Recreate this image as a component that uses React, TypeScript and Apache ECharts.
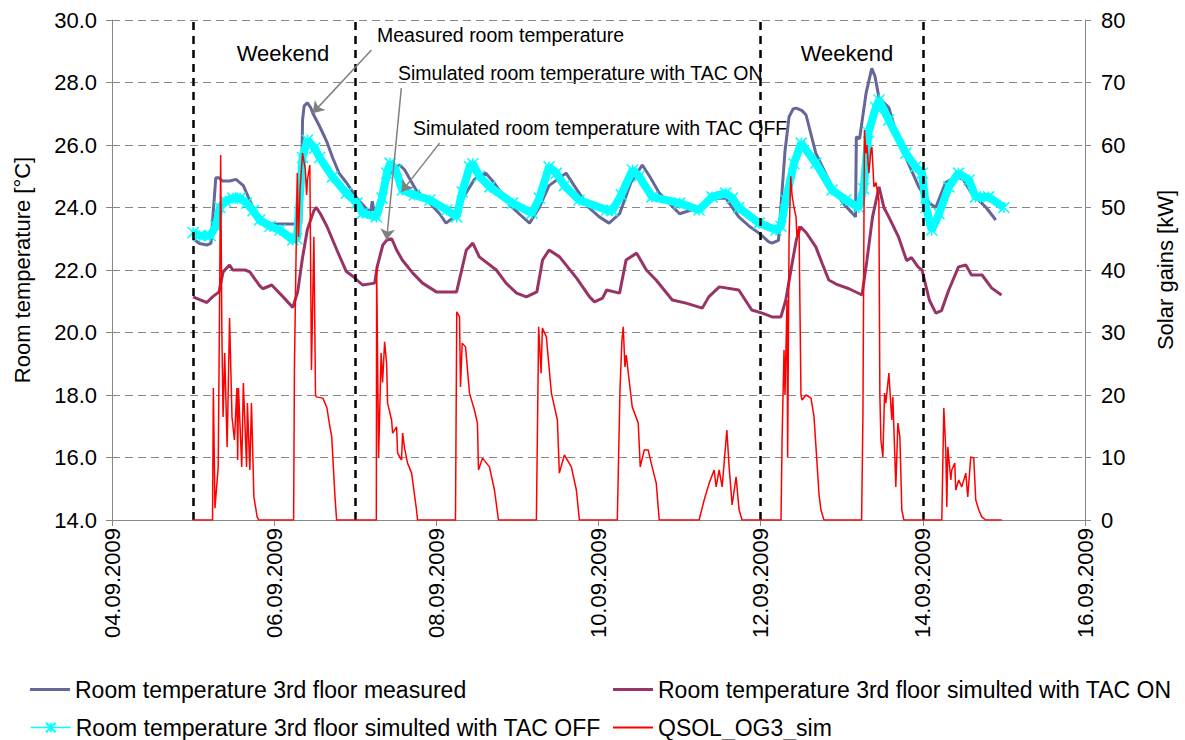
import React, { useEffect, useRef } from "react";
import * as echarts from "echarts";

// time axis: day of September 2009 (fractional days)
const xMin = 4;
const xMax = 16;
const xStep = 2;
const weekendBounds = [5, 7, 12, 14];

const seriesNames = [
  "Room temperature 3rd floor measured",
  "Room temperature 3rd floor simulted with TAC ON",
  "Room temperature 3rd floor simulted with TAC OFF",
  "QSOL_OG3_sim",
];

// [day, °C]
const measured = [
  [5.0, 23.0], [5.08, 22.85], [5.17, 22.8], [5.22, 22.85], [5.25, 23.9], [5.28, 24.95], [5.32, 24.95],
  [5.36, 24.85], [5.45, 24.85], [5.53, 24.9], [5.62, 24.7], [5.67, 24.4], [5.72, 24.1], [5.8, 23.7],
  [5.88, 23.5], [6.0, 23.47], [6.15, 23.47], [6.3, 23.47], [6.33, 23.5], [6.35, 26.8], [6.37, 27.25],
  [6.41, 27.35], [6.45, 27.2], [6.48, 27.0], [6.56, 26.6], [6.65, 26.1], [6.72, 25.6], [6.8, 25.1],
  [6.89, 24.8], [7.02, 24.3], [7.14, 23.95], [7.19, 23.85], [7.21, 24.2], [7.23, 23.9], [7.28, 24.0],
  [7.36, 24.6], [7.45, 25.2], [7.55, 25.36], [7.61, 25.2], [7.75, 24.56], [7.92, 24.14], [8.04, 23.8],
  [8.12, 23.5], [8.22, 23.7], [8.35, 24.4], [8.47, 24.9], [8.61, 25.1], [8.71, 24.8], [8.9, 24.1],
  [9.02, 23.8], [9.15, 23.5], [9.27, 24.0], [9.39, 24.7], [9.6, 25.1], [9.7, 24.7], [9.88, 24.0],
  [10.01, 23.7], [10.13, 23.5], [10.26, 23.8], [10.4, 24.8], [10.54, 25.36], [10.63, 25.0], [10.75, 24.46],
  [11.0, 23.8], [11.24, 24.0], [11.43, 24.3], [11.57, 24.3], [11.73, 23.7], [11.86, 23.4], [11.98, 23.18],
  [12.1, 22.9], [12.14, 22.86], [12.22, 22.95], [12.26, 24.4], [12.3, 25.8], [12.35, 26.9], [12.4, 27.15],
  [12.44, 27.18], [12.51, 27.1], [12.56, 26.96], [12.68, 25.74], [12.88, 24.66], [13.03, 24.1], [13.13, 23.82],
  [13.17, 23.7], [13.18, 26.26], [13.22, 26.2], [13.3, 27.66], [13.37, 28.45], [13.41, 28.2], [13.46, 27.5],
  [13.58, 27.2], [13.67, 26.4], [13.79, 25.6], [13.95, 24.66], [14.08, 24.14], [14.16, 24.0], [14.28, 24.8],
  [14.41, 24.98], [14.5, 24.9], [14.6, 24.46], [14.78, 24.0], [14.9, 23.6],
];

// [day, °C]
const tacOn = [
  [5.0, 21.14], [5.08, 21.05], [5.17, 20.96], [5.24, 21.14], [5.32, 21.3], [5.37, 21.94], [5.45, 22.16],
  [5.49, 22.0], [5.64, 22.0], [5.7, 21.94], [5.82, 21.5], [5.86, 21.4], [5.97, 21.52], [6.11, 21.14],
  [6.23, 20.8], [6.29, 21.3], [6.35, 22.4], [6.41, 23.3], [6.49, 23.9], [6.52, 24.0], [6.57, 23.8],
  [6.65, 23.4], [6.78, 22.6], [6.89, 21.95], [6.97, 21.8], [7.09, 21.52], [7.24, 21.58], [7.27, 22.1],
  [7.34, 22.8], [7.39, 22.96], [7.45, 23.0], [7.51, 22.64], [7.58, 22.32], [7.71, 21.9], [7.83, 21.58],
  [8.0, 21.3], [8.25, 21.3], [8.37, 22.64], [8.45, 22.86], [8.53, 22.42], [8.74, 22.0], [8.86, 21.58],
  [8.99, 21.26], [9.11, 21.14], [9.24, 21.3], [9.31, 22.32], [9.39, 22.64], [9.52, 22.42], [9.73, 21.74],
  [9.89, 21.14], [9.95, 20.98], [10.05, 21.1], [10.1, 21.36], [10.26, 21.26], [10.34, 22.32], [10.47, 22.54],
  [10.59, 22.0], [10.71, 21.68], [10.91, 21.04], [11.08, 20.94], [11.28, 20.78], [11.36, 21.14], [11.49, 21.46],
  [11.73, 21.36], [11.89, 20.72], [12.02, 20.62], [12.14, 20.5], [12.25, 20.5], [12.31, 21.04], [12.38, 22.1],
  [12.44, 22.96], [12.49, 23.38], [12.56, 23.2], [12.68, 22.74], [12.76, 22.2], [12.84, 21.68], [12.93, 21.55],
  [13.09, 21.4], [13.25, 21.2], [13.31, 22.3], [13.38, 23.7], [13.46, 24.66], [13.52, 24.0], [13.58, 23.7],
  [13.7, 23.06], [13.8, 22.3], [13.86, 22.4], [13.94, 22.1], [13.99, 22.0], [14.08, 21.04], [14.16, 20.62],
  [14.23, 20.7], [14.32, 21.36], [14.44, 22.1], [14.53, 22.16], [14.6, 21.84], [14.73, 21.84], [14.85, 21.42],
  [14.97, 21.2],
];

// [day, °C]
const tacOff = [
  [5.0, 23.2], [5.08, 23.1], [5.21, 23.1], [5.28, 23.4], [5.33, 24.0], [5.4, 24.2], [5.49, 24.3],
  [5.58, 24.3], [5.66, 24.14], [5.74, 23.9], [5.82, 23.6], [5.95, 23.4], [6.07, 23.28], [6.23, 22.96],
  [6.28, 23.0], [6.35, 25.6], [6.41, 26.16], [6.5, 25.9], [6.56, 25.6], [6.72, 24.98], [6.89, 24.46],
  [7.02, 24.14], [7.09, 23.82], [7.26, 23.7], [7.33, 24.3], [7.39, 25.1], [7.43, 25.42], [7.5, 25.2],
  [7.58, 24.56], [7.73, 24.4], [7.92, 24.24], [8.13, 23.92], [8.25, 23.7], [8.32, 24.5], [8.41, 25.3],
  [8.45, 25.4], [8.53, 25.0], [8.66, 24.66], [8.94, 24.14], [9.18, 23.82], [9.27, 24.3], [9.39, 25.3],
  [9.48, 25.1], [9.58, 24.7], [9.76, 24.24], [10.1, 23.92], [10.17, 23.9], [10.28, 24.4], [10.42, 25.2],
  [10.5, 25.0], [10.66, 24.34], [11.0, 24.14], [11.24, 23.92], [11.4, 24.34], [11.57, 24.46], [11.65, 24.3],
  [11.73, 24.0], [11.98, 23.5], [12.19, 23.28], [12.25, 23.4], [12.31, 24.24], [12.41, 25.4], [12.5, 26.06],
  [12.68, 25.42], [12.88, 24.56], [13.05, 24.24], [13.21, 24.0], [13.27, 24.6], [13.33, 26.4], [13.42, 27.2],
  [13.46, 27.44], [13.58, 26.8], [13.79, 25.74], [13.91, 25.3], [13.99, 25.1], [14.04, 24.0], [14.11, 23.28],
  [14.2, 23.8], [14.32, 24.66], [14.44, 25.1], [14.57, 24.88], [14.65, 24.34], [14.81, 24.34], [15.0, 24.0],
];

// [day, kW]
const qsol = [
  [5.0, 0], [5.24, 0], [5.25, 21.1], [5.27, 1.9], [5.31, 8.5], [5.33, 40], [5.34, 58.4], [5.355, 30],
  [5.37, 16.5], [5.39, 26.7], [5.42, 11.7], [5.45, 32.3], [5.48, 16.5], [5.51, 12.8], [5.54, 21.1],
  [5.55, 9.6], [5.56, 21.1], [5.6, 8.5], [5.62, 21.9], [5.66, 8.5], [5.67, 18.7], [5.7, 8.0], [5.72, 18.7],
  [5.75, 3.7], [5.79, 0.5], [5.81, 0], [6.24, 0], [6.25, 24.5], [6.285, 55.5], [6.3, 45.3], [6.32, 53],
  [6.35, 58.7], [6.385, 56], [6.4, 52], [6.41, 54.4], [6.44, 56.8], [6.46, 24], [6.49, 45.3], [6.51, 20],
  [6.52, 19.7], [6.6, 19.5], [6.65, 18], [6.68, 15.5], [6.71, 13.3], [6.75, 3.7], [6.77, 0],
  [7.26, 0], [7.264, 40.5], [7.288, 10], [7.319, 26.7], [7.337, 22], [7.362, 28.5], [7.387, 25], [7.399, 18.7],
  [7.448, 16], [7.461, 13.9], [7.51, 14.9], [7.522, 10.7], [7.571, 9.6], [7.584, 13.9], [7.608, 11.5],
  [7.645, 9.1], [7.695, 7.5], [7.756, 1.6], [7.768, 0],
  [8.236, 0], [8.252, 33.3], [8.286, 32.5], [8.298, 21.3], [8.319, 28.3], [8.36, 27.7], [8.409, 20.3],
  [8.47, 17.6], [8.507, 15.5], [8.52, 8.0], [8.569, 9.9], [8.655, 8.5], [8.717, 4.8], [8.766, 0],
  [9.234, 0], [9.262, 30.9], [9.292, 23.5], [9.308, 30.7], [9.357, 29.3], [9.419, 20.3], [9.493, 16],
  [9.517, 7.5], [9.579, 10.4], [9.665, 8.5], [9.727, 4.8], [9.764, 0],
  [10.232, 0], [10.265, 20.8], [10.289, 28.8], [10.305, 30.9], [10.326, 24.5], [10.342, 26.4], [10.416, 18.1],
  [10.49, 15.5], [10.515, 8.5], [10.564, 11.2], [10.613, 11.2], [10.65, 9.1], [10.712, 5.9], [10.749, 0],
  [11.241, 0], [11.303, 3.2], [11.365, 5.9], [11.426, 8.0], [11.451, 5.3], [11.488, 8.0], [11.525, 5.3],
  [11.583, 14.4], [11.611, 8.5], [11.648, 2.4], [11.697, 6.9], [11.734, 1.6], [11.771, 0],
  [12.251, 0], [12.264, 12.8], [12.288, 27.2], [12.3, 20], [12.325, 35.2], [12.333, 10], [12.35, 45],
  [12.371, 55], [12.387, 52], [12.411, 50], [12.436, 48.5], [12.448, 45.3], [12.473, 47], [12.497, 20],
  [12.51, 19.2], [12.559, 20], [12.621, 19.5], [12.658, 16.5], [12.695, 9.1], [12.72, 4.0], [12.744, 1.6],
  [12.781, 0],
  [13.245, 0], [13.261, 16.5], [13.28, 62.4], [13.298, 58.7], [13.31, 60], [13.335, 55.5], [13.36, 59.2],
  [13.372, 59.7], [13.397, 53.3], [13.421, 54], [13.458, 51.2], [13.47, 20], [13.483, 12.8], [13.507, 10.1],
  [13.528, 20.3], [13.544, 18.7], [13.581, 23.5], [13.617, 16], [13.63, 19.7], [13.655, 10.1], [13.667, 5.3],
  [13.692, 15.5], [13.717, 13.3], [13.741, 1.6], [13.766, 0],
  [14.234, 0], [14.259, 17.9], [14.283, 11.2], [14.296, 2.1], [14.308, 11.7], [14.345, 6.4], [14.357, 8.0],
  [14.394, 9.1], [14.406, 4.8], [14.443, 6.4], [14.48, 5.3], [14.53, 7.5], [14.554, 3.7], [14.591, 10.1],
  [14.628, 9.9], [14.653, 3.2], [14.69, 1.6], [14.727, 0.5], [14.776, 0], [14.973, 0],
];

// annotation arrows: [from(day, °C), to(day, °C)]
const arrows = [
  [[7.2, 29.04], [6.475, 27.02]],
  [[7.568, 27.82], [7.387, 22.96]],
  [[8.04, 26.06], [7.57, 24.5]],
];

const annotationTexts = [
  "Measured room temperature",
  "Simulated room temperature with TAC ON",
  "Simulated room temperature with TAC OFF",
];
const weekendText = "Weekend";

const FONT = "'Liberation Sans', Arial, Helvetica, sans-serif";
const AXIS_GRAY = "#888888";

export default function App() {
  const ref = useRef<HTMLDivElement>(null);

  useEffect(() => {
    document.body.style.margin = "0";
    if (!ref.current) return;
    const chart = echarts.init(ref.current, null, { renderer: "svg" });

    const legendBase = {
      orient: "horizontal",
      padding: 0,
      itemWidth: 40,
      selectedMode: false,
      textStyle: { fontFamily: FONT, fontSize: 23, color: "#000" },
    };

    const starPath = "path://M0,0L10,10M10,0L0,10M5,0L5,10";

    const option: any = {
      animation: false,
      backgroundColor: "#ffffff",
      grid: { left: 112, right: 100, top: 20, bottom: 220, containLabel: false },
      legend: [
        { ...legendBase, data: [{ name: seriesNames[0], icon: "rect" }], left: 30, top: 678, itemHeight: 3 },
        { ...legendBase, data: [{ name: seriesNames[1], icon: "rect" }], left: 613, top: 678, itemHeight: 3 },
        {
          ...legendBase,
          data: [seriesNames[2]],
          left: 30,
          top: 716,
          itemHeight: 12,
          lineStyle: { width: 1.5 },
        },
        { ...legendBase, data: [{ name: seriesNames[3], icon: "rect" }], left: 613, top: 716, itemHeight: 2 },
      ],
      xAxis: {
        type: "value",
        min: xMin,
        max: xMax,
        interval: xStep,
        axisLine: { show: true, onZero: false, lineStyle: { color: AXIS_GRAY, width: 1 } },
        axisTick: { show: true, length: 6, lineStyle: { color: AXIS_GRAY } },
        axisLabel: {
          rotate: 90,
          margin: 8,
          fontFamily: FONT,
          fontSize: 22,
          color: "#000",
          formatter: (v: number) => (v < 10 ? "0" : "") + v + ".09.2009",
        },
        splitLine: { show: false },
      },
      yAxis: [
        {
          type: "value",
          min: 14,
          max: 30,
          interval: 2,
          position: "left",
          name: "Room temperature [°C]",
          nameLocation: "middle",
          nameRotate: 90,
          nameGap: 79,
          nameTextStyle: { fontFamily: FONT, fontSize: 22, color: "#000" },
          axisLine: { show: true, lineStyle: { color: AXIS_GRAY } },
          axisTick: { show: true, length: 6, lineStyle: { color: AXIS_GRAY } },
          axisLabel: {
            formatter: (v: number) => v.toFixed(1),
            fontFamily: FONT,
            fontSize: 22,
            color: "#000",
            margin: 15,
          },
          splitLine: { show: true, lineStyle: { color: AXIS_GRAY, type: [8, 5], width: 1 } },
        },
        {
          type: "value",
          min: 0,
          max: 80,
          interval: 10,
          position: "right",
          name: "Solar gains [kW]",
          nameLocation: "middle",
          nameRotate: 90,
          nameGap: 69,
          nameTextStyle: { fontFamily: FONT, fontSize: 22, color: "#000" },
          axisLine: { show: true, lineStyle: { color: AXIS_GRAY } },
          axisTick: { show: true, length: 6, lineStyle: { color: AXIS_GRAY } },
          axisLabel: { fontFamily: FONT, fontSize: 22, color: "#000", margin: 16 },
          splitLine: { show: false },
        },
      ],
      series: [
        {
          name: seriesNames[0],
          type: "line",
          yAxisIndex: 0,
          data: measured,
          symbol: "none",
          color: "#666699",
          lineStyle: { color: "#666699", width: 3 },
          z: 2,
        },
        {
          name: seriesNames[1],
          type: "line",
          yAxisIndex: 0,
          data: tacOn,
          symbol: "none",
          color: "#993366",
          lineStyle: { color: "#993366", width: 3 },
          z: 3,
        },
        {
          name: seriesNames[2],
          type: "line",
          yAxisIndex: 0,
          data: tacOff,
          symbol: starPath,
          symbolSize: 11,
          showAllSymbol: true,
          color: "#00FFFF",
          itemStyle: { color: "#00FFFF", borderColor: "#00FFFF", borderWidth: 1.5 },
          lineStyle: { color: "#00FFFF", width: 8 },
          z: 4,
        },
        {
          name: seriesNames[3],
          type: "line",
          yAxisIndex: 1,
          data: qsol,
          symbol: "none",
          color: "#FF0000",
          lineStyle: { color: "#FF0000", width: 1.5 },
          z: 5,
        },
        {
          name: "weekend-lines",
          type: "line",
          yAxisIndex: 0,
          data: [],
          silent: true,
          markLine: {
            silent: true,
            symbol: ["none", "none"],
            label: { show: false },
            lineStyle: { color: "#000", width: 2.5, type: [8, 6] },
            data: weekendBounds.map((d) => ({ xAxis: d })),
          },
        },
        {
          name: "arrows",
          type: "line",
          yAxisIndex: 0,
          data: [],
          silent: true,
          markLine: {
            silent: true,
            symbol: ["none", "arrow"],
            symbolSize: 11,
            label: { show: false },
            lineStyle: { color: "#808080", width: 1.5, type: "solid" },
            data: arrows.map(([a, b]) => [{ coord: a }, { coord: b }]),
          },
        },
      ],
      graphic: [
        {
          type: "text",
          x: 283,
          y: 53,
          style: { text: weekendText, fontFamily: FONT, fontSize: 22, fill: "#000", align: "center", verticalAlign: "middle" },
        },
        {
          type: "text",
          x: 847,
          y: 53,
          style: { text: weekendText, fontFamily: FONT, fontSize: 22, fill: "#000", align: "center", verticalAlign: "middle" },
        },
        {
          type: "text",
          x: 377,
          y: 35,
          style: { text: annotationTexts[0], fontFamily: FONT, fontSize: 19.5, fill: "#000", align: "left", verticalAlign: "middle" },
        },
        {
          type: "text",
          x: 398,
          y: 73,
          style: { text: annotationTexts[1], fontFamily: FONT, fontSize: 19.5, fill: "#000", align: "left", verticalAlign: "middle" },
        },
        {
          type: "text",
          x: 413,
          y: 128,
          style: { text: annotationTexts[2], fontFamily: FONT, fontSize: 19.5, fill: "#000", align: "left", verticalAlign: "middle" },
        },
      ],
    };

    chart.setOption(option);
    return () => chart.dispose();
  }, []);

  return <div ref={ref} style={{ width: 1185, height: 740 }} />;
}
